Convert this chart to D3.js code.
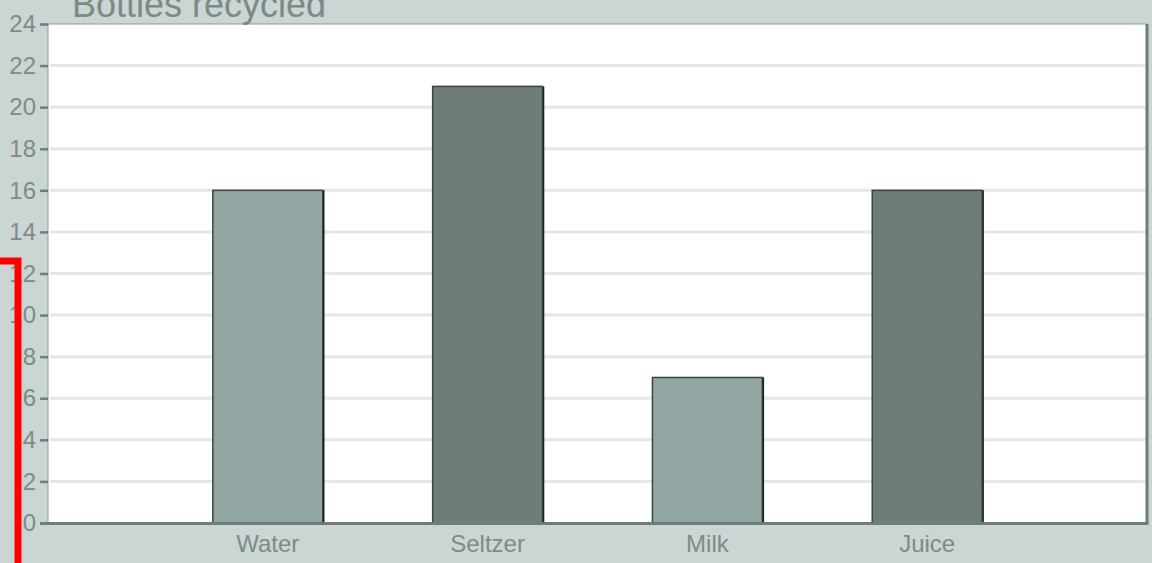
<!DOCTYPE html>
<html>
<head>
<meta charset="utf-8">
<script src="https://cdn.jsdelivr.net/npm/d3@7"></script>
<style>
  html, body { margin: 0; padding: 0; background: #cbd5d3; overflow: hidden; }
  svg { display: block; font-family: "Liberation Sans", Arial, sans-serif; }
</style>
</head>
<body>
<script>
const categories = ["Water", "Seltzer", "Milk", "Juice"];
const bottles = [16, 21, 7, 16];
const yTicks = [0, 2, 4, 6, 8, 10, 12, 14, 16, 18, 20, 22, 24];
const title = "Bottles recycled";

const w = 1152;
const h = 563;
const margin = { top: 24, right: 5, bottom: 40, left: 48 };

const svg = d3.select("body")
  .append("svg")
  .attr("width", w)
  .attr("height", h);

const x = d3.scaleBand()
  .domain(categories)
  .range([margin.left, w - margin.right])
  .paddingInner(0.5)
  .paddingOuter(0.75);

const y = d3.scaleLinear()
  .domain([0, 24])
  .range([h - margin.bottom, margin.top]);

// plot background
svg.append("rect")
  .attr("x", margin.left)
  .attr("y", margin.top)
  .attr("width", w - margin.right - margin.left)
  .attr("height", h - margin.bottom - margin.top)
  .attr("fill", "#ffffff")
  .attr("stroke", "#8f9c99")
  .attr("stroke-width", 1);

// gridlines
svg.append("g")
  .selectAll("line")
  .data(yTicks.filter(d => d > 0 && d < 24))
  .enter()
  .append("line")
  .attr("x1", margin.left + 2)
  .attr("x2", w - margin.right)
  .attr("y1", d => y(d))
  .attr("y2", d => y(d))
  .attr("stroke", "#e6e6e6")
  .attr("stroke-width", 3);

// right border
svg.append("line")
  .attr("x1", w - margin.right)
  .attr("x2", w - margin.right)
  .attr("y1", margin.top)
  .attr("y2", h - margin.bottom)
  .attr("stroke", "#6f7d7a")
  .attr("stroke-width", 3);

// bars
const colors = ["#91a5a2", "#6e7d79"];
svg.append("g")
  .selectAll("rect")
  .data(categories)
  .enter()
  .append("rect")
  .attr("x", d => x(d))
  .attr("y", (d, i) => y(bottles[i]))
  .attr("width", x.bandwidth())
  .attr("height", (d, i) => y(0) - y(bottles[i]))
  .attr("fill", (d, i) => colors[i % 2])
  .attr("stroke", "#3a4543")
  .attr("stroke-width", 1.5);

// darker right edge on bars
svg.append("g")
  .selectAll("line")
  .data(categories)
  .enter()
  .append("line")
  .attr("x1", d => x(d) + x.bandwidth() + 1)
  .attr("x2", d => x(d) + x.bandwidth() + 1)
  .attr("y1", (d, i) => y(bottles[i]))
  .attr("y2", y(0))
  .attr("stroke", "#1c2322")
  .attr("stroke-width", 1.5);

// y axis
const yAxis = d3.axisLeft(y)
  .tickValues(yTicks)
  .tickSize(8)
  .tickPadding(4);

const yg = svg.append("g")
  .attr("transform", `translate(${margin.left},0)`)
  .call(yAxis);
yg.select(".domain").remove();
yg.selectAll(".tick line").attr("stroke", "#6f7d7a").attr("stroke-width", 2.5);
yg.selectAll(".tick text")
  .attr("fill", "#7d8b88")
  .style("font-size", "24px")
  .style("font-family", "Liberation Sans, Arial, sans-serif");

// x axis
const xAxis = d3.axisBottom(x).tickSize(0).tickPadding(12);
const xg = svg.append("g")
  .attr("transform", `translate(0,${h - margin.bottom})`)
  .call(xAxis);
xg.select(".domain").remove();
xg.selectAll(".tick text")
  .attr("fill", "#7d8b88")
  .style("font-size", "24px")
  .style("font-family", "Liberation Sans, Arial, sans-serif");

// bottom axis line
svg.append("line")
  .attr("x1", margin.left - 8)
  .attr("x2", w - margin.right + 1.5)
  .attr("y1", y(0) + 0.5)
  .attr("y2", y(0) + 0.5)
  .attr("stroke", "#6f7d7a")
  .attr("stroke-width", 3);

// title
svg.append("text")
  .attr("x", 72)
  .attr("y", 17)
  .attr("fill", "#7b8a87")
  .style("font-size", "36px")
  .text(title);

// red marker
svg.append("path")
  .attr("d", `M0,${261} H${18} V${h}`)
  .attr("fill", "none")
  .attr("stroke", "#ff0000")
  .attr("stroke-width", 7);
</script>
</body>
</html>
